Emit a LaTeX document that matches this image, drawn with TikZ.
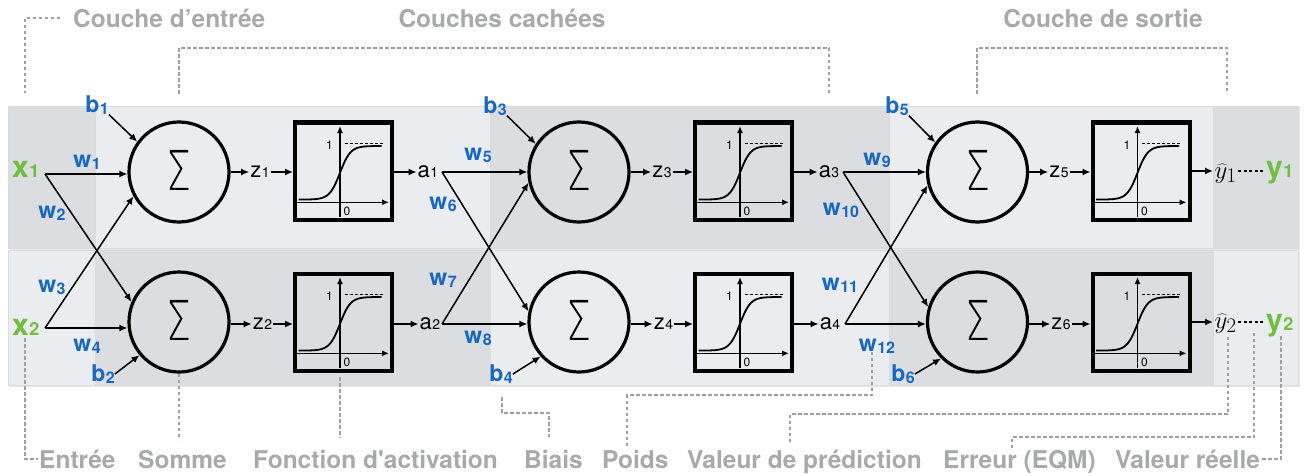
\documentclass[tikz,border=0pt]{standalone}
\usepackage[no-math]{fontspec}
\setmainfont[Ligatures=TeXOff]{TeX Gyre Heros}
\IfFontExistsTF{DejaVu Sans ExtraLight}
  {\newfontfamily\sigmafont{DejaVu Sans ExtraLight}}
  {\newfontfamily\sigmafont{DejaVu Sans}}
\usepackage{graphicx}
\usetikzlibrary{arrows.meta}

\definecolor{panelD}{RGB}{220,221,225}
\definecolor{panelL}{RGB}{235,236,240}
\definecolor{wblue}{RGB}{22,104,196}
\definecolor{xgreen}{RGB}{112,190,62}
\definecolor{capgray}{RGB}{168,170,170}
\definecolor{guidegray}{RGB}{160,160,160}

% letter with a subscript-sized index
\newcommand{\wlab}[2]{#1\kern0.5pt\raisebox{-2pt}{\fontsize{16}{16}\selectfont #2}}
\newcommand{\glab}[2]{#1\kern0.5pt{\fontsize{18}{18}\selectfont #2}}
\newcommand{\zlab}[2]{#1\kern0.5pt{\fontsize{14}{14}\selectfont #2}}
\newcommand{\sumglyph}{\raisebox{-3pt}[30pt][0pt]{\scalebox{0.72}[1]{\sigmafont\fontsize{55}{55}\selectfont Σ}}}

% sigmoid plot drawn inside an activation box
\newcommand{\actplot}[1]{%
  \begin{scope}[shift={(#1)}]
    \draw[line width=1.5pt,-{Latex[length=7pt,width=6pt]}] (-3.5,46) -- (-3.5,-45);
    \draw[line width=1.5pt,-{Latex[length=7pt,width=6pt]}] (-46.5,31.3) -- (45.5,31.3);
    \draw[line width=1.2pt,dash pattern=on 3pt off 2pt] (1,-27.5) -- (39,-27.5);
    \draw[line width=1.8pt] plot[domain=-45:38,samples=80,smooth]
      (\x,{1.8-26.8*tanh(0.095*(\x+3.5))});
    \node[font=\fontsize{12}{12}\selectfont,inner sep=0pt] (#1-one) at (-14,-26) {1};
    \node[font=\fontsize{12}{12}\selectfont,inner sep=0pt] (#1-zero) at (3.5,40) {0};
  \end{scope}}

\begin{document}
\begin{tikzpicture}[x=1pt,y=-1pt,
  neuron/.style={circle,draw,line width=3.2pt,minimum size=100pt,inner sep=0pt},
  actbox/.style={draw,line width=4pt,minimum size=97pt,inner sep=0pt},
  wire/.style={line width=1.5pt},
  conn/.style={line width=1.5pt,-{Latex[length=8pt,width=7pt]}},
  wlabel/.style={text=wblue,font=\bfseries\fontsize{23}{23}\selectfont,inner sep=0pt},
  xylabel/.style={text=xgreen,font=\bfseries\fontsize{30}{30}\selectfont,inner sep=1pt},
  siglabel/.style={font=\fontsize{22}{22}\selectfont,inner sep=1pt},
  predlabel/.style={font=\fontsize{24.88}{25}\selectfont,inner sep=1.5pt},
  caption/.style={text=capgray,font=\bfseries\fontsize{24.5}{24.5}\selectfont,inner sep=0pt},
  guide/.style={draw=guidegray,line width=1.2pt,dash pattern=on 3.5pt off 2.5pt},
  tie/.style={line width=1.4pt,dash pattern=on 3pt off 2.5pt},
  cell/.style={draw=black!14,line width=0.7pt}
]
\useasboundingbox (0,0) rectangle (1305,476);

% shaded panels, checkerboard of two rows
\fill[black!9] (9.5,107.5) rectangle (1299.5,249.5);
\fill[black!9] (9.5,251.5) rectangle (1299.5,386.5);
\foreach \xa/\xb/\ct/\cb in {8/95/panelD/panelL,95/490/panelL/panelD,
    490/889/panelD/panelL,889/1213/panelL/panelD,1213/1298/panelD/panelL}{
  \path[cell,fill=\ct] (\xa,106) rectangle (\xb,248);
  \path[cell,fill=\cb] (\xa,250) rectangle (\xb,385);
}

% summation neurons
\node[neuron] (n1) at (179,172) {\sumglyph};
\node[neuron] (n2) at (179,322) {\sumglyph};
\node[neuron] (n3) at (579,172) {\sumglyph};
\node[neuron] (n4) at (579,322) {\sumglyph};
\node[neuron] (n5) at (977.5,172) {\sumglyph};
\node[neuron] (n6) at (977.5,322) {\sumglyph};

% activation boxes
\node[actbox] (f1) at (343.5,171) {};
\node[actbox] (f2) at (343.5,322) {};
\node[actbox] (f3) at (743.5,171) {};
\node[actbox] (f4) at (743.5,322) {};
\node[actbox] (f5) at (1141,171) {};
\node[actbox] (f6) at (1141,322) {};
\foreach \b in {f1,f2,f3,f4,f5,f6}{\actplot{\b}}

% inputs and outputs
\node[xylabel,anchor=base west] (x1) at (11,177) {\glab{x}{1}};
\node[xylabel,anchor=base west] (x2) at (11,335) {\glab{x}{2}};
\node[predlabel,anchor=base west] (yh1) at (1213,178) {$\widehat{y}_1$};
\node[predlabel,anchor=base west] (yh2) at (1213,328) {$\widehat{y}_2$};
\node[xylabel,anchor=base west] (y1) at (1265,177) {\glab{y}{1}};
\node[xylabel,anchor=base west] (y2) at (1265,330) {\glab{y}{2}};

% intermediate signals
\node[siglabel] (z1) at (260,172) {\zlab{z}{1}};
\node[siglabel] (z2) at (262.5,324) {\zlab{z}{2}};
\node[siglabel] (a1) at (428,172) {\zlab{a}{1}};
\node[siglabel] (a2) at (430,324) {\zlab{a}{2}};
\node[siglabel] (z3) at (662,172) {\zlab{z}{3}};
\node[siglabel] (z4) at (663.5,324) {\zlab{z}{4}};
\node[siglabel] (a3) at (829,172) {\zlab{a}{3}};
\node[siglabel] (a4) at (830,324) {\zlab{a}{4}};
\node[siglabel] (z5) at (1059,172) {\zlab{z}{5}};
\node[siglabel] (z6) at (1061,324) {\zlab{z}{6}};

% branching points of the weighted links
\coordinate (x1o) at (45,174);
\coordinate (x2o) at (45,328);
\coordinate (a1o) at (442,172);
\coordinate (a2o) at (442,324);
\coordinate (a3o) at (843,172);
\coordinate (a4o) at (845,324);

% weights
\node[wlabel] (w1) at (87,162) {\wlab{w}{1}};
\node[wlabel] (w2) at (52,213) {\wlab{w}{2}};
\node[wlabel] (w3) at (52,287) {\wlab{w}{3}};
\node[wlabel] (w4) at (87,346) {\wlab{w}{4}};
\node[wlabel] (w5) at (478,155) {\wlab{w}{5}};
\node[wlabel] (w6) at (443,204) {\wlab{w}{6}};
\node[wlabel] (w7) at (443,280) {\wlab{w}{7}};
\node[wlabel] (w8) at (478,338) {\wlab{w}{8}};
\node[wlabel] (w9) at (877,160) {\wlab{w}{9}};
\node[wlabel] (w10) at (841,210) {\wlab{w}{10}};
\node[wlabel] (w11) at (840,285) {\wlab{w}{11}};
\node[wlabel] (w12) at (877,346) {\wlab{w}{12}};

% biases
\node[wlabel] (b1) at (97,105) {\wlab{b}{1}};
\node[wlabel] (b2) at (103,374) {\wlab{b}{2}};
\node[wlabel] (b3) at (495,106) {\wlab{b}{3}};
\node[wlabel] (b4) at (501,374) {\wlab{b}{4}};
\node[wlabel] (b5) at (897,106) {\wlab{b}{5}};
\node[wlabel] (b6) at (903,374) {\wlab{b}{6}};

% links into the neurons
\draw[conn] (x1o) -- (x1o -| n1.west);
\draw[conn] (x1o) -- (n2.157);
\draw[conn] (x2o) -- (x2o -| n2.west);
\draw[conn] (x2o) -- (n1.208);
\draw[conn] (a1o) -- (a1o -| n3.west);
\draw[conn] (a1o) -- (n4.168);
\draw[conn] (a2o) -- (a2o -| n4.west);
\draw[conn] (a2o) -- (n3.192);
\draw[conn] (a3o) -- (a3o -| n5.west);
\draw[conn] (a3o) -- (n6.163);
\draw[conn] (a4o) -- (a4o -| n6.west);
\draw[conn] (a4o) -- (n5.195);

\draw[conn] (b1.south east) -- (n1.144);
\draw[conn] (b2.east) -- (n2.220);
\draw[conn] (b3.south east) -- (n3.147);
\draw[conn] (b4.east) -- (n4.222);
\draw[conn] (b5.south east) -- (n5.145);
\draw[conn] (b6.east) -- (n6.225);

% neuron -> z -> activation -> a
\foreach \n/\z/\f/\a in {n1/z1/f1/a1,n2/z2/f2/a2,n3/z3/f3/a3,n4/z4/f4/a4}{
  \draw[conn] (\z.west -| \n.east) -- (\z.west);
  \draw[conn] (\z.east) -- (\z.east -| \f.west);
  \draw[conn] (\a.west -| \f.east) -- (\a.west);
}
\draw[conn] (z5.west -| n5.east) -- (z5.west);
\draw[conn] (z5.east) -- (z5.east -| f5.west);
\draw[conn] (z6.west -| n6.east) -- (z6.west);
\draw[conn] (z6.east) -- (z6.east -| f6.west);
\draw[conn] (f5.east) -- (f5.east -| yh1.west);
\draw[conn] (f6.east) -- (f6.east -| yh2.west);
\draw[tie] (f5.east -| yh1.east) -- (f5.east -| y1.west);
\draw[tie] (f6.east -| yh2.east) -- (f6.east -| y2.west);

% layer captions
\node[caption,anchor=base west] (cin) at (73,28) {Couche d’entrée};
\node[caption,anchor=base] (chid) at (502,28) {Couches cachées};
\node[caption,anchor=base] (cout) at (1103,28) {Couche de sortie};
\coordinate (cinA) at (60,18);
\coordinate (cinB) at (25,93);
\draw[guide] (cinA) -| (cinB);
\coordinate (hidA) at (179,94);
\coordinate (hidB) at (829,94);
\draw[guide] (hidA) -- ++(0,-46) -| (hidB);
\coordinate (outA) at (977,94);
\coordinate (outB) at (1227,94);
\draw[guide] (outA) -- ++(0,-46) -| (outB);

% legend captions
\node[caption,anchor=base west] (lEntree) at (39,468) {Entrée};
\node[caption,anchor=base west] (lSomme) at (138,468) {Somme};
\node[caption,anchor=base west] (lFonc) at (253,468) {Fonction d'activation};
\node[caption,anchor=base west] (lBiais) at (524,468) {Biais};
\node[caption,anchor=base west] (lPoids) at (602,468) {Poids};
\node[caption,anchor=base west] (lPred) at (687,468) {Valeur de prédiction};
\node[caption,anchor=base west] (lErr) at (943,468) {Erreur (EQM)};
\node[caption,anchor=base west] (lReel) at (1115,468) {Valeur réelle};

% legend leaders
\coordinate (gE) at (25,338);
\draw[guide] (gE) |- ([xshift=-1pt]lEntree.west);
\draw[guide] (n2.south) -- ++(0,66);
\coordinate (gFa) at (340,377);
\coordinate (gFb) at (340,438);
\draw[guide] (gFa) -- (gFb);
\coordinate (gBa) at (502,397);
\coordinate (gBb) at (549,437);
\draw[guide] (gBa) -- (502,413) -| (gBb);
\coordinate (gPa) at (627,446);
\coordinate (gPb) at (872,352);
\draw[guide] (gPa) -- (627,395) -| (gPb);
\coordinate (gVa) at (790,442);
\coordinate (gVb) at (1228,336);
\draw[guide] (gVa) -- (790,414) -| (gVb);
\coordinate (gRa) at (1012,448);
\coordinate (gRb) at (1254,330);
\draw[guide] (gRa) -- (1012,437) -| (gRb);
\coordinate (gYa) at (1281,336);
\draw[guide] ([xshift=2pt]lReel.east) -| (gYa);
\end{tikzpicture}
\end{document}
